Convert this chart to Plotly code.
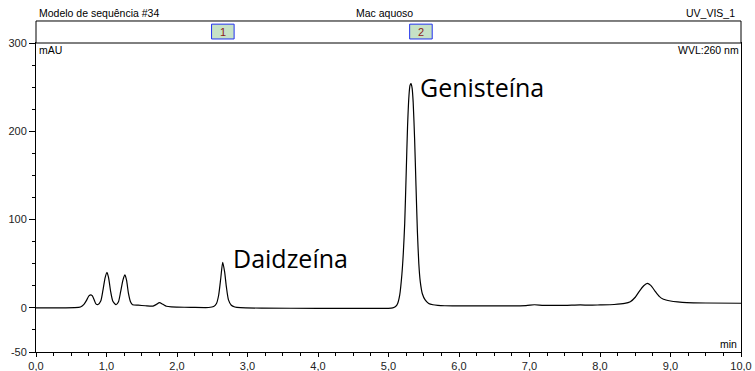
import plotly.graph_objects as go

# Chromatogram trace: retention time (min) vs. absorbance (mAU) at 260 nm
time_min = [
    0.00, 0.30, 0.55, 0.63, 0.68, 0.72, 0.75, 0.78, 0.80, 0.83, 0.85, 0.88,
    0.92, 0.95, 0.98, 1.007, 1.03, 1.06, 1.09, 1.135, 1.17, 1.20, 1.235,
    1.262, 1.285, 1.31, 1.34, 1.37, 1.45, 1.55, 1.66, 1.71, 1.75, 1.80,
    1.85, 1.92, 2.00, 2.20, 2.45, 2.52, 2.56, 2.59, 2.62, 2.648, 2.675,
    2.70, 2.73, 2.77, 2.82, 2.90, 3.20, 4.00, 5.00, 5.06, 5.10, 5.13, 5.16,
    5.19, 5.21, 5.23, 5.25, 5.27, 5.29, 5.305, 5.319, 5.335, 5.35, 5.37,
    5.39, 5.41, 5.43, 5.45, 5.48, 5.52, 5.57, 5.63, 5.70, 5.80, 6.00, 6.50,
    6.95, 7.07, 7.20, 7.50, 7.72, 7.85, 8.00, 8.20, 8.35, 8.43, 8.50, 8.56,
    8.62, 8.67, 8.72, 8.78, 8.84, 8.90, 9.00, 9.10, 9.23, 9.50, 10.00,
]
signal_mau = [
    0.0, 0.0, 0.2, 1.0, 4.0, 9.0, 13.5, 14.8, 13.5, 8.0, 4.5, 3.8,
    8.0, 20.0, 34.0, 40.3, 34.0, 18.0, 7.5, 3.6, 7.0, 18.0, 32.0,
    37.3, 31.0, 17.0, 7.0, 3.6, 3.0, 2.4, 2.0, 4.0, 5.9, 4.0,
    1.8, 1.0, 0.8, 0.6, 0.4, 1.5, 5.0, 14.0, 33.0, 51.6, 41.0,
    24.0, 9.0, 3.0, 1.0, 0.2, -0.3, -0.5, -0.5, 0.0, 1.5, 5.0, 15.0,
    38.0, 62.0, 96.0, 150.0, 205.0, 240.0, 252.0, 254.0, 249.0, 233.0, 192.0,
    138.0, 86.0, 50.0, 30.0, 16.0, 9.0, 5.0, 3.5, 2.8, 2.4, 2.2, 2.2,
    2.6, 3.5, 2.8, 2.9, 3.4, 3.0, 3.3, 3.8, 5.0, 7.0, 12.0, 19.0,
    25.0, 27.8, 25.5, 19.0, 13.0, 9.7, 7.8, 6.8, 6.0, 5.5, 5.2,
]

# Axis ticks
x_ticks = [0, 1, 2, 3, 4, 5, 6, 7, 8, 9, 10]
x_tick_labels = ["0,0", "1,0", "2,0", "3,0", "4,0", "5,0",
                 "6,0", "7,0", "8,0", "9,0", "10,0"]
y_ticks = [-50, 0, 100, 200, 300]
y_tick_labels = ["-50", "0", "100", "200", "300"]

# Named peaks and the integration markers above the trace
peak_names = ["Daidzeína", "Genisteína"]
peak_label_time = [2.766, 5.42]
peak_label_mau = [56.5, 250.0]
marker_ids = ["1", "2"]
marker_time = [2.65, 5.46]

TEXT_FONT = "Liberation Sans, Arial, sans-serif"

fig = go.Figure()
fig.add_trace(go.Scatter(
    x=time_min, y=signal_mau, mode="lines",
    line=dict(color="black", width=1.2, shape="spline", smoothing=0.6),
    hoverinfo="skip", showlegend=False,
))

# Header strip above the plot area
fig.add_shape(type="rect", xref="paper", yref="paper",
              x0=0, x1=1, y0=1, y1=1.0712,
              line=dict(color="black", width=1), fillcolor="white", layer="above")

for mid, mt in zip(marker_ids, marker_time):
    fig.add_shape(type="rect", xref="x", yref="paper",
                  x0=mt - 0.16, x1=mt + 0.16, y0=1.013, y1=1.061,
                  line=dict(color="#2233ee", width=1), fillcolor="#c6e2c6",
                  layer="above")
    fig.add_annotation(x=mt, y=1.037, xref="x", yref="paper", text=mid,
                       showarrow=False, xanchor="center", yanchor="middle",
                       font=dict(family=TEXT_FONT, size=11, color="#8b1a1a"))

header = [
    ("Modelo de sequência #34", 0.0015, "left"),
    ("Mac aquoso", 0.495, "center"),
    ("UV_VIS_1", 0.995, "right"),
]
for txt, xp, anchor in header:
    fig.add_annotation(x=xp, y=1.097, xref="paper", yref="paper", text=txt,
                       showarrow=False, xanchor=anchor, yanchor="middle",
                       font=dict(family=TEXT_FONT, size=10.5, color="black"))

fig.add_annotation(x=0.0015, y=0.977, xref="paper", yref="paper", text="mAU",
                   showarrow=False, xanchor="left", yanchor="middle",
                   font=dict(family=TEXT_FONT, size=10.5, color="black"))
fig.add_annotation(x=1.0, y=0.977, xref="paper", yref="paper", text="WVL:260 nm",
                   showarrow=False, xanchor="right", yanchor="middle",
                   font=dict(family=TEXT_FONT, size=10.5, color="black"))
fig.add_annotation(x=0.997, y=0.026, xref="paper", yref="paper", text="min",
                   showarrow=False, xanchor="right", yanchor="middle",
                   font=dict(family=TEXT_FONT, size=10.5, color="black"))

for name, pt, pv in zip(peak_names, peak_label_time, peak_label_mau):
    fig.add_annotation(x=pt, y=pv, xref="x", yref="y", text=name,
                       showarrow=False, xanchor="left", yanchor="middle",
                       font=dict(family="Open Sans, sans-serif", size=25,
                                 color="black"))

axis_font = dict(family=TEXT_FONT, size=11, color="#222222")

fig.update_xaxes(
    range=[0, 10], tickmode="array", tickvals=x_ticks, ticktext=x_tick_labels,
    showline=True, linecolor="black", linewidth=1, mirror=True,
    ticks="outside", ticklen=4, tickcolor="black", tickwidth=1,
    minor=dict(dtick=0.25, tick0=0, ticks="outside", ticklen=3,
               tickcolor="black", tickwidth=1),
    showgrid=False, zeroline=False, tickfont=axis_font, automargin=False,
)
fig.update_yaxes(
    range=[-50, 300], tickmode="array", tickvals=y_ticks, ticktext=y_tick_labels,
    showline=True, linecolor="black", linewidth=1, mirror=True,
    ticks="outside", ticklen=6, tickcolor="black", tickwidth=1,
    minor=dict(dtick=25, tick0=0, ticks="outside", ticklen=3,
               tickcolor="black", tickwidth=1),
    showgrid=False, zeroline=False, tickfont=axis_font, automargin=False,
)

fig.update_layout(
    width=755, height=371,
    margin=dict(l=36, r=14, t=43, b=19),
    paper_bgcolor="white", plot_bgcolor="white",
    showlegend=False,
)

fig.write_html("out.html")
